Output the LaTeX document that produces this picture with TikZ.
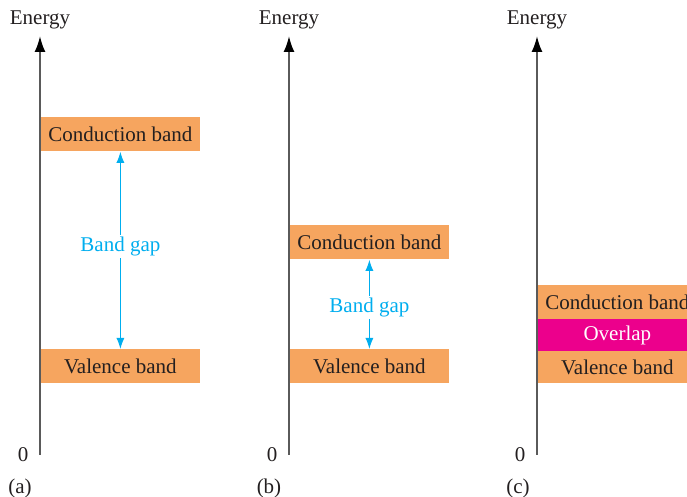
\documentclass[tikz,border=0pt]{standalone}
\usepackage{fontspec}
\setmainfont{Liberation Serif}
\usepackage{tikz}
\usetikzlibrary{arrows.meta, positioning}

\definecolor{bandorange}{RGB}{246,165,95}
\definecolor{overlapmag}{RGB}{236,0,140}
\definecolor{gapcyan}{RGB}{0,174,239}
\definecolor{axisgray}{RGB}{90,90,90}
\definecolor{inkdark}{RGB}{35,31,32}

\begin{document}
\begin{tikzpicture}[
            x = 0.5pt, y = -0.5pt, % one unit = one pixel of the sketch
            font = \fontsize{10.5}{12}\selectfont,
            text = inkdark
        ]

        \tikzstyle{band}=[
            fill = bandorange,
            minimum width = 80pt,
            minimum height = 17pt,
            inner sep = 0pt,
            anchor = north west
        ]
        \tikzstyle{energyaxis}=[
            draw = axisgray,
            line width = 1pt,
            -{Latex[length=8pt, width=5.5pt, black]}
        ]
        \tikzstyle{gaparrow}=[
            draw = gapcyan,
            line width = 0.5pt,
            {Latex[length=5.5pt, width=4pt]}-{Latex[length=5.5pt, width=4pt]}
        ]
        \tikzstyle{gaplabel}=[
            fill = white,
            text = gapcyan,
            inner sep = 1pt
        ]

        \useasboundingbox (0,0) rectangle (687,497);
        \clip (0,0) rectangle (687,497);

        % (a) insulator
        \coordinate (azero) at (40,455);
        \coordinate (atop) at (40,36);
        \node (aenergy) at (40,20) {Energy};
        \node (alabel0) at (23,455) {0};
        \node (acase) at (20,488) {(a)};
        \node[band] (acb) at (40,117) {Conduction band};
        \node[band] (avb) at (40,349) {Valence band};
        \draw[energyaxis] (azero) -- (atop);
        \draw[gaparrow] (acb.south) -- node[gaplabel, pos=0.48] {Band gap} (avb.north);

        % (b) semiconductor
        \coordinate (bzero) at (289,455);
        \coordinate (btop) at (289,36);
        \node (benergy) at (289,20) {Energy};
        \node (blabel0) at (272,455) {0};
        \node (bcase) at (269,488) {(b)};
        \node[band] (bcb) at (289,225) {Conduction band};
        \node[band] (bvb) at (289,349) {Valence band};
        \draw[energyaxis] (bzero) -- (btop);
        \draw[gaparrow] (bcb.south) -- node[gaplabel, pos=0.53] {Band gap} (bvb.north);

        % (c) conductor
        \coordinate (czero) at (537,455);
        \coordinate (ctop) at (537,36);
        \node (cenergy) at (537,20) {Energy};
        \node (clabel0) at (520,455) {0};
        \node (ccase) at (518,488) {(c)};
        \node[band] (ccb) at (537,285) {Conduction band};
        \node[band, fill = overlapmag, text = white, minimum height = 16pt] (cov) at (537,319) {Overlap};
        \node[band, minimum height = 16pt] (cvb) at (537,351) {Valence band};
        \draw[energyaxis] (czero) -- (ctop);

\end{tikzpicture}
\end{document}
